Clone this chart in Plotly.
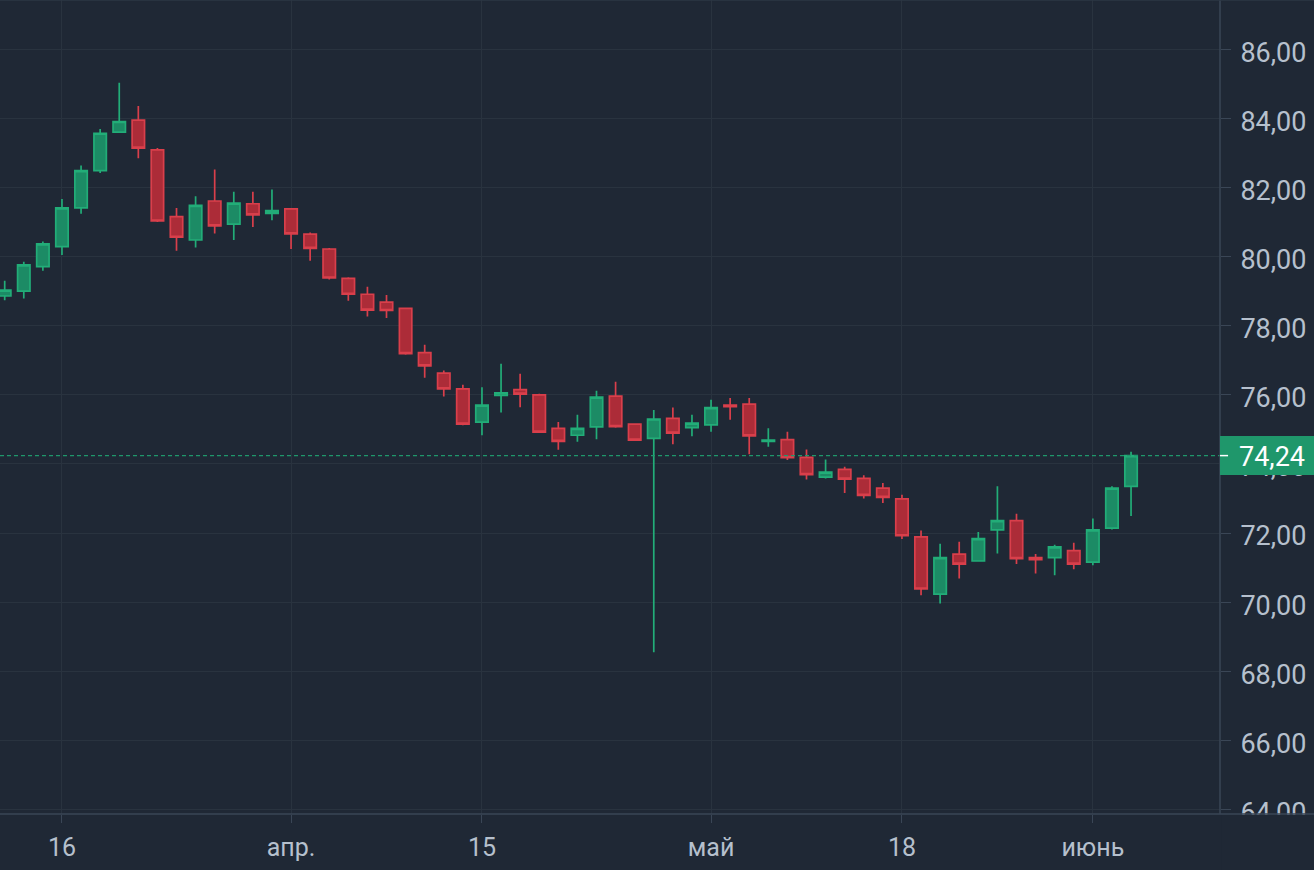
import plotly.graph_objects as go

dates = ["2020-03-11","2020-03-12","2020-03-13","2020-03-16","2020-03-17","2020-03-18","2020-03-19","2020-03-20",
         "2020-03-23","2020-03-24","2020-03-25","2020-03-26","2020-03-27","2020-03-30","2020-03-31","2020-04-01",
         "2020-04-02","2020-04-03","2020-04-06","2020-04-07","2020-04-08","2020-04-09","2020-04-10","2020-04-13",
         "2020-04-14","2020-04-15","2020-04-16","2020-04-17","2020-04-20","2020-04-21","2020-04-22","2020-04-23",
         "2020-04-24","2020-04-27","2020-04-28","2020-04-29","2020-04-30","2020-05-04","2020-05-05","2020-05-06",
         "2020-05-07","2020-05-08","2020-05-11","2020-05-12","2020-05-13","2020-05-14","2020-05-15","2020-05-18",
         "2020-05-19","2020-05-20","2020-05-21","2020-05-22","2020-05-25","2020-05-26","2020-05-27","2020-05-28",
         "2020-05-29","2020-06-01","2020-06-02","2020-06-03"]

open_ = [78.86, 79.00, 79.71, 80.29, 81.41, 82.49, 83.60, 83.95, 83.09, 81.16,
         80.48, 81.61, 80.94, 81.53, 81.25, 81.38, 80.65, 80.22, 79.37, 78.91,
         78.68, 78.50, 77.22, 76.63, 76.17, 75.21, 75.98, 76.15, 76.00, 75.03,
         74.83, 75.07, 75.96, 75.15, 74.74, 75.32, 75.05, 75.13, 75.70, 75.73,
         74.65, 74.70, 74.19, 73.62, 73.84, 73.58, 73.30, 72.99, 71.89, 70.23,
         71.39, 71.19, 72.09, 72.36, 71.29, 71.29, 71.49, 71.16, 72.14, 73.35]
high = [79.30, 79.85, 80.44, 81.67, 82.64, 83.69, 85.03, 84.36, 83.14, 81.41,
        81.75, 82.52, 81.88, 81.88, 81.94, 81.40, 80.70, 80.25, 79.40, 79.13,
        78.89, 78.52, 77.45, 76.70, 76.29, 76.22, 76.90, 76.61, 76.03, 75.21,
        75.42, 76.12, 76.38, 75.17, 75.56, 75.63, 75.42, 75.86, 75.91, 75.91,
        75.03, 74.93, 74.42, 74.13, 73.92, 73.67, 73.45, 73.11, 72.07, 71.69,
        71.75, 72.03, 73.35, 72.56, 71.39, 71.66, 71.72, 72.42, 73.35, 74.35]
low = [78.74, 78.79, 79.59, 80.05, 81.24, 82.42, 83.60, 82.85, 81.00, 80.17,
       80.26, 80.67, 80.48, 80.86, 81.05, 80.22, 79.88, 79.34, 78.72, 78.27,
       78.22, 77.16, 76.49, 75.95, 75.12, 74.83, 75.49, 75.64, 74.90, 74.41,
       74.64, 74.71, 75.05, 74.66, 68.55, 74.57, 74.80, 74.93, 75.28, 74.28,
       74.50, 74.11, 73.55, 73.58, 73.16, 73.00, 72.87, 71.83, 70.20, 69.96,
       70.68, 71.19, 71.41, 71.10, 70.83, 70.78, 70.95, 71.07, 72.10, 72.49]
close = [79.03, 79.76, 80.37, 81.41, 82.49, 83.57, 83.91, 83.14, 81.03, 80.56,
         81.48, 80.89, 81.55, 81.21, 81.33, 80.66, 80.24, 79.38, 78.91, 78.45,
         78.44, 77.19, 76.84, 76.17, 75.15, 75.70, 76.06, 76.02, 74.92, 74.65,
         75.03, 75.93, 75.08, 74.69, 75.30, 74.89, 75.18, 75.63, 75.66, 74.81,
         74.69, 74.18, 73.69, 73.76, 73.56, 73.09, 73.03, 71.92, 70.38, 71.29,
         71.10, 71.84, 72.36, 71.26, 71.23, 71.60, 71.10, 72.09, 73.30, 74.24]

x_tick_dates = ["2020-03-16", "2020-04-01", "2020-04-15", "2020-05-04", "2020-05-18", "2020-06-01"]
x_tick_text = ["16", "апр.", "15", "май", "18", "июнь"]
y_tick_vals = [64, 66, 68, 70, 72, 74, 76, 78, 80, 82, 84, 86]
y_tick_text = ["64,00", "66,00", "68,00", "70,00", "72,00", "74,00", "76,00", "78,00", "80,00", "82,00", "84,00", "86,00"]
last_price_text = "74,24"

BG = "#1f2835"
GRID = "#29333f"
AXIS = "#3a4656"
TXT = "#b6c0cd"
UP_LINE = "#22ad78"
UP_FILL = "#1c8b65"
DN_LINE = "#d93f4b"
DN_FILL = "#ac2c38"
LAST = "#1f976b"
FONT = "Roboto, DejaVu Sans, sans-serif"

H, W = 870, 1314
ML, MR, MT, MB = 0, 94, 0, 56
Y_RANGE = [63.867, 87.427]
px_per_unit = (H - MT - MB) / (Y_RANGE[1] - Y_RANGE[0])
box_half = 19.5 / px_per_unit  # price label box half-height (39 px)

fig = go.Figure(go.Candlestick(
    x=dates, open=open_, high=high, low=low, close=close,
    increasing=dict(line=dict(color=UP_LINE, width=1.7), fillcolor=UP_FILL),
    decreasing=dict(line=dict(color=DN_LINE, width=1.7), fillcolor=DN_FILL),
    whiskerwidth=0, showlegend=False, hoverinfo="skip",
))

last = close[-1]
right_edge = W / (W - ML - MR)
fig.add_shape(type="line", xref="paper", x0=0, x1=1, yref="y", y0=last, y1=last,
              line=dict(color=LAST, width=1.4, dash="4px,3px"), layer="above")
# pane separators
fig.add_shape(type="line", xref="paper", x0=1, x1=1, yref="paper", y0=0, y1=1,
              line=dict(color=AXIS, width=1.5), layer="above")
fig.add_shape(type="line", xref="paper", x0=0, x1=right_edge, yref="paper", y0=1, y1=1,
              line=dict(color="#2c3745", width=1.5), layer="above")
# clip the price-scale labels below the time axis
fig.add_shape(type="rect", xref="paper", x0=1.0012, x1=right_edge, yref="paper", y0=-0.1, y1=-0.001,
              fillcolor=BG, line=dict(width=0), layer="above")
fig.add_shape(type="line", xref="paper", x0=0, x1=right_edge, yref="paper", y0=0, y1=0,
              line=dict(color=AXIS, width=1.5), layer="above")
# last price marker box
fig.add_shape(type="rect", xref="paper", x0=1.0, x1=right_edge, yref="y",
              y0=last - box_half, y1=last + box_half,
              fillcolor=LAST, line=dict(width=0), layer="above")
fig.add_shape(type="line", xref="paper", x0=1, x1=1.0066, yref="y", y0=last, y1=last,
              line=dict(color="#ffffff", width=1.5), layer="above")
fig.add_annotation(xref="paper", x=1.0, xanchor="left", yref="y", y=last, yanchor="middle",
                   text=last_price_text, showarrow=False, borderpad=0, borderwidth=0,
                   xshift=19, yshift=-1,
                   font=dict(family=FONT, size=27, color="#ffffff"))

fig.update_layout(
    width=W, height=H,
    margin=dict(l=ML, r=MR, t=MT, b=MB),
    paper_bgcolor=BG, plot_bgcolor=BG,
    boxgap=0.35, boxgroupgap=0,
    font=dict(family=FONT, size=25, color=TXT),
    xaxis=dict(type="category", range=[-0.246, 63.66], rangeslider=dict(visible=False),
               tickmode="array", tickvals=x_tick_dates, ticktext=x_tick_text,
               tickfont=dict(size=25),
               showgrid=True, gridcolor=GRID, gridwidth=1,
               ticks="outside", ticklen=8, tickcolor=AXIS, tickwidth=1,
               ticklabelstandoff=3,
               showline=False, zeroline=False, fixedrange=True),
    yaxis=dict(side="right", range=Y_RANGE,
               tickmode="array", tickvals=y_tick_vals, ticktext=y_tick_text,
               tickfont=dict(size=27),
               showgrid=True, gridcolor=GRID, gridwidth=1,
               ticks="outside", ticklen=10, tickcolor=AXIS, tickwidth=1,
               ticklabelstandoff=4, ticklabelshift=3,
               showline=False, zeroline=False, fixedrange=True),
)

fig.write_html("out.html")
